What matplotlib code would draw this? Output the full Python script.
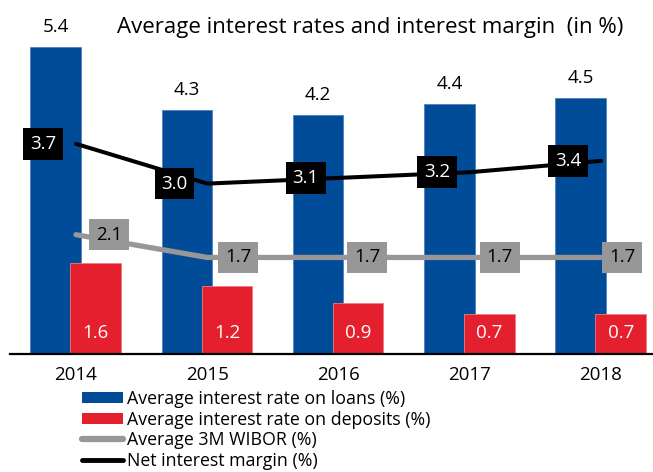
import matplotlib
matplotlib.use("Agg")
import matplotlib.pyplot as plt
from matplotlib.patches import Patch
from matplotlib.lines import Line2D
import numpy as np

BLUE = "#004c99"
RED = "#e4202f"
GREY = "#979797"
BLACK = "#000000"

plt.rcParams["font.family"] = ["Open Sans", "DejaVu Sans"]

years = ["2014", "2015", "2016", "2017", "2018"]
loans = [5.4, 4.3, 4.2, 4.4, 4.5]
deposits = [1.6, 1.2, 0.9, 0.7, 0.7]
wibor = [2.1, 1.7, 1.7, 1.7, 1.7]
nim = [3.7, 3.0, 3.1, 3.2, 3.4]

W, H = 653, 472
fig = plt.figure(figsize=(W / 100, H / 100), dpi=100, facecolor="white")
ax = fig.add_axes([10 / W, 118 / H, 643 / W, 354 / H])
ax.set_xlim(-0.503, 4.396)
ax.set_ylim(0, 354 / 56.8)

x = np.arange(len(years))
bw = 0.385
ax.bar(x - 0.155, loans, bw, color=BLUE, edgecolor="#4f7fc0", linewidth=0.6, zorder=2)
ax.bar(x + 0.15, deposits, bw, color=RED, edgecolor="#f07a82", linewidth=0.6, zorder=3)

ax.plot(x, wibor, color=GREY, lw=3.8, solid_capstyle="round", zorder=4)
ax.plot(x, nim, color=BLACK, lw=2.9, solid_capstyle="round", zorder=5)

FS = 13.5
# value labels
for xi, v in zip(x, loans):
    ax.annotate(f"{v:.1f}", (xi - 0.155, v), xytext=(0, 14.5), textcoords="offset points",
                ha="center", va="center", fontsize=FS, color=BLACK)
for xi, v in zip(x, deposits):
    ax.text(xi + 0.15, 0.37, f"{v:.1f}", ha="center", va="center", fontsize=FS,
            color="white", zorder=6)

box = dict(boxstyle="square,pad=0.36", linewidth=0)
for xi, v in zip(x, nim):
    ax.text(xi - 0.25, v, f"{v:.1f}", ha="center", va="center", fontsize=FS,
            color="white", bbox=dict(box, facecolor=BLACK), zorder=7)
wibor_dx = [0.25, 0.235, 0.22, 0.23, 0.16]
for xi, v, dx in zip(x, wibor, wibor_dx):
    ax.text(xi + dx, v, f"{v:.1f}", ha="center", va="center", fontsize=FS,
            color=BLACK, bbox=dict(box, facecolor=GREY), zorder=7)

for s in ["left", "right", "top"]:
    ax.spines[s].set_visible(False)
ax.spines["bottom"].set_linewidth(1.6)
ax.spines["bottom"].set_zorder(8)
ax.set_yticks([])
ax.set_xticks(x)
ax.set_xticklabels(years, fontsize=FS)
ax.tick_params(axis="x", length=0, pad=9)

fig.text(117 / W, 1 - 27 / H, "Average interest rates and interest margin  (in %)",
         ha="left", va="center", fontsize=16)

handles = [
    Patch(facecolor=BLUE, edgecolor="none"),
    Patch(facecolor=RED, edgecolor="none"),
    Line2D([], [], color=GREY, lw=4.5, solid_capstyle="round"),
    Line2D([], [], color=BLACK, lw=3.5, solid_capstyle="round"),
]
labels = ["Average interest rate on loans (%)", "Average interest rate on deposits (%)",
          "Average 3M WIBOR (%)", "Net interest margin (%)"]
fig.legend(handles, labels, loc="upper left", bbox_to_anchor=(82 / W, 1 - 390 / H),
           frameon=False, fontsize=12.8, handlelength=2.3, handleheight=0.6,
           handletextpad=0.25, labelspacing=0.15, borderpad=0, borderaxespad=0)

fig.savefig("out.png", dpi=100, facecolor="white")
